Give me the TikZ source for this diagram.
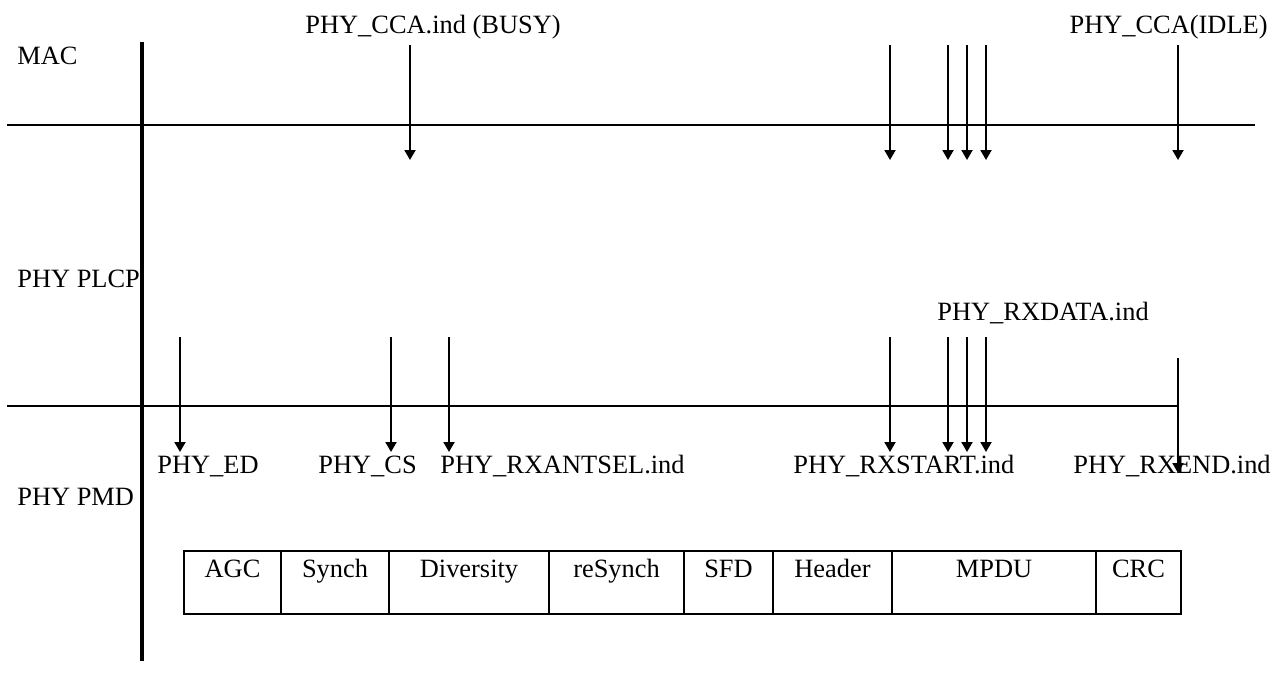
\documentclass[tikz,border=0pt]{standalone}
\usepackage{fontspec}
\setmainfont{Liberation Serif}
\usetikzlibrary{arrows.meta}
\begin{document}
\begin{tikzpicture}[x=0.5pt,y=-0.5pt,
  lbl/.style={anchor=base west,inner sep=0pt,font=\fontsize{13.2pt}{15pt}\selectfont},
  cell/.style={anchor=base,inner sep=0pt,font=\fontsize{13.2pt}{15pt}\selectfont},
  thinline/.style={line width=1pt},
  boxline/.style={line width=1.2pt},
  sig/.style={line width=1pt,-{Triangle[length=5pt,width=5.5pt]}},
  axis/.style={line width=2pt}]
\useasboundingbox (0,0) rectangle (1275,681);
% layer lines
\coordinate (vt) at (142,42); \coordinate (vb) at (142,661);
\draw[axis] (vt) -- (vb);
\coordinate (macL) at (7,125); \coordinate (macR) at (1255,125);
\draw[thinline] (macL) -- (macR);
\coordinate (plL) at (7,406); \coordinate (plR) at (1178,406);
\draw[thinline] (plL) -- (plR);
% labels
\node[lbl] (mac) at (17,64) {MAC};
\node[lbl] (plcp) at (17,287) {PHY PLCP};
\node[lbl] (pmd) at (17,505) {PHY PMD};
\node[lbl] (ccabusy) at (305,33) {PHY\_CCA.ind (BUSY)};
\node[lbl,anchor=base east] (ccaidle) at (1268,33) {PHY\_CCA(IDLE)};
\node[lbl] (rxdata) at (937,320) {PHY\_RXDATA.ind};
\node[lbl] (ed) at (157,473) {PHY\_ED};
\node[lbl] (cs) at (318,473) {PHY\_CS};
\node[lbl] (antsel) at (440,473) {PHY\_RXANTSEL.ind};
\node[lbl] (rxstart) at (793,473) {PHY\_RXSTART.ind};
\node[lbl] (rxend) at (1073,473) {PHY\_RXEND.ind};
% MAC arrows
\foreach \n/\x in {a/410,b/890,c/948,d/967,e/986,f/1178}{
  \coordinate (m\n s) at (\x,45); \coordinate (m\n e) at (\x,160);
  \draw[sig] (m\n s) -- (m\n e);
}
% PLCP arrows
\foreach \n/\x in {a/180,b/391,c/449,d/890,e/948,f/967,g/986}{
  \coordinate (p\n s) at (\x,337); \coordinate (p\n e) at (\x,452);
  \draw[sig] (p\n s) -- (p\n e);
}
\coordinate (phs) at (1178,358); \coordinate (phe) at (1178,473);
\draw[sig] (phs) -- (phe);
% frame box
\def\bt{551}\def\bb{614}
\draw[boxline] (184,\bt) rectangle (1181,\bb);
\foreach \x in {281,389,549,684,773,892,1096}{
  \draw[boxline] (\x,\bt) -- (\x,\bb);
}
\node[cell] (agc) at (232.5,577) {AGC};
\node[cell] (synch) at (335,577) {Synch};
\node[cell] (div) at (469,577) {Diversity};
\node[cell] (resynch) at (616.5,577) {reSynch};
\node[cell] (sfd) at (728.5,577) {SFD};
\node[cell] (hdr) at (832.5,577) {Header};
\node[cell] (mpdu) at (994,577) {MPDU};
\node[cell] (crc) at (1138.5,577) {CRC};
\end{tikzpicture}
\end{document}
